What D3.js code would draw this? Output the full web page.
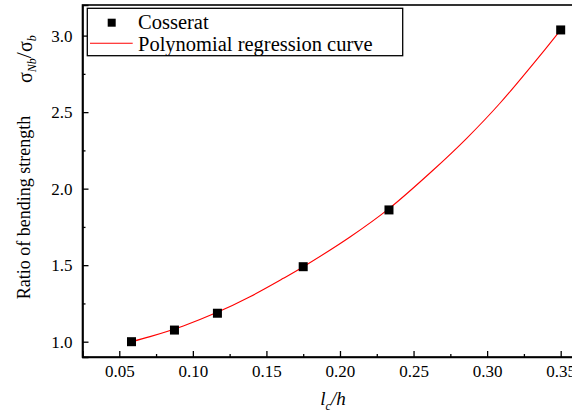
<!DOCTYPE html>
<html>
<head>
<meta charset="utf-8">
<script src="https://cdn.jsdelivr.net/npm/d3@7"></script>
<style>
  html, body { margin: 0; padding: 0; background: #fff; }
  svg { display: block; }
  text { font-family: "Liberation Serif", "Times New Roman", serif; fill: #000; }
</style>
</head>
<body>
<svg id="chart" width="572" height="414"></svg>
<script>
// ---- data ----
const ratioX = [0.0583, 0.0875, 0.1167, 0.175, 0.2333, 0.35];
const cosseratY = [1.0, 1.076, 1.186, 1.49, 1.861, 3.037];

const curveX = [0.0583, 0.0709, 0.0935, 0.1162, 0.1388, 0.1615, 0.1751, 0.2068, 0.2335, 0.2634, 0.2861, 0.3087, 0.3405, 0.35];
const curveY = [1.0, 1.033, 1.103, 1.190, 1.294, 1.414, 1.490, 1.684, 1.871, 2.122, 2.329, 2.558, 2.923, 3.037];

const xTickValues = [0.05, 0.10, 0.15, 0.20, 0.25, 0.30, 0.35];
const xMinorTicks = [0.075, 0.125, 0.175, 0.225, 0.275, 0.325];
const yTickValues = [1.0, 1.5, 2.0, 2.5, 3.0];
const yMinorTicks = [1.25, 1.75, 2.25, 2.75];

const legendLabels = ["Cosserat", "Polynomial regression curve"];

// ---- layout ----
const FONT = "'Liberation Serif', 'Times New Roman', serif";
const svg = d3.select("#chart");
const padL = 82.5, padR = 575.4, padT = 5, padB = 357;

const x = d3.scaleLinear().domain([0.025, 0.36]).range([padL, padR]);
const y = d3.scaleLinear().domain([0.9, 3.2]).range([padB, padT]);

// frame
svg.append("rect")
  .attr("x", padL).attr("y", padT)
  .attr("width", padR - padL).attr("height", padB - padT)
  .attr("fill", "none").attr("stroke", "#000").attr("stroke-width", 1.6);

// x axis
const xAxis = d3.axisBottom(x).tickValues(xTickValues).tickSize(-6).tickFormat(d3.format(".2f")).tickPadding(10);
const gx = svg.append("g").attr("transform", `translate(0,${padB})`).call(xAxis).attr("font-family", FONT);
gx.select(".domain").attr("stroke-width", 1.6);
gx.selectAll(".tick line").attr("stroke-width", 1.3);
gx.selectAll(".tick text").attr("font-size", 17).attr("dy", "0.6em");
const xMinor = d3.axisBottom(x).tickValues(xMinorTicks).tickSize(-3).tickFormat("");
const gxm = svg.append("g").attr("transform", `translate(0,${padB})`).call(xMinor);
gxm.select(".domain").remove();
gxm.selectAll(".tick line").attr("stroke-width", 1.3);

// y axis
const yAxis = d3.axisLeft(y).tickValues(yTickValues).tickSize(-6).tickFormat(d3.format(".1f")).tickPadding(10);
const gy = svg.append("g").attr("transform", `translate(${padL},0)`).call(yAxis).attr("font-family", FONT);
gy.select(".domain").attr("stroke-width", 1.6);
gy.selectAll(".tick line").attr("stroke-width", 1.3);
gy.selectAll(".tick text").attr("font-size", 17);
const yMinor = d3.axisLeft(y).tickValues(yMinorTicks).tickSize(-3).tickFormat("");
const gym = svg.append("g").attr("transform", `translate(${padL},0)`).call(yMinor);
gym.select(".domain").remove();
gym.selectAll(".tick line").attr("stroke-width", 1.3);

// regression curve
const curvePts = curveX.map((d, i) => [d, curveY[i]]);
svg.append("path")
  .datum(curvePts)
  .attr("fill", "none")
  .attr("stroke", "#ff0000")
  .attr("stroke-width", 1.1)
  .attr("d", d3.line().x(d => x(d[0])).y(d => y(d[1])).curve(d3.curveCatmullRom.alpha(0.5)));

// data points
const sq = 9;
svg.append("g").selectAll("rect")
  .data(ratioX.map((d, i) => [d, cosseratY[i]]))
  .join("rect")
  .attr("x", d => x(d[0]) - sq / 2)
  .attr("y", d => y(d[1]) - sq / 2)
  .attr("width", sq).attr("height", sq)
  .attr("fill", "#000");

// legend
const lg = svg.append("g").attr("font-family", FONT);
lg.append("rect").attr("x", 87.3).attr("y", 8.3).attr("width", 315.4).attr("height", 47.4)
  .attr("fill", "#fff").attr("stroke", "#000").attr("stroke-width", 1.3);
lg.append("rect").attr("x", 111.7 - 4).attr("y", 22.7 - 4).attr("width", 8).attr("height", 8).attr("fill", "#000");
lg.append("line").attr("x1", 90).attr("x2", 132.7).attr("y1", 43.3).attr("y2", 43.3)
  .attr("stroke", "#ff0000").attr("stroke-width", 1.1);
lg.append("text").attr("x", 138).attr("y", 22).attr("dy", "0.35em").attr("font-size", 20.5).text(legendLabels[0]);
lg.append("text").attr("x", 138).attr("y", 43.5).attr("dy", "0.35em").attr("font-size", 20.5).text(legendLabels[1]);

// y axis title
svg.append("text")
  .attr("font-family", FONT)
  .attr("transform", "translate(30,207.5) rotate(-90)")
  .attr("text-anchor", "middle")
  .attr("font-size", 18)
  .text("Ratio of bending strength");

// sigma ratio label
const sig = svg.append("text")
  .attr("font-family", FONT)
  .attr("transform", "translate(32,83) rotate(-90)")
  .attr("font-size", 20);
sig.append("tspan").text("σ");
sig.append("tspan").attr("font-style", "italic").attr("font-size", 12).attr("dy", 4).text("Nb");
sig.append("tspan").attr("font-size", 22).attr("dy", -5).text("/");
sig.append("tspan").attr("dy", 1).text("σ");
sig.append("tspan").attr("font-style", "italic").attr("font-size", 12).attr("dy", 4).text("b");

// x axis title
const xt = svg.append("text")
  .attr("font-family", FONT)
  .attr("x", 333).attr("y", 405)
  .attr("text-anchor", "middle")
  .attr("font-size", 19)
  .attr("font-style", "italic");
xt.append("tspan").text("l");
xt.append("tspan").attr("font-size", 12).attr("dy", 5).text("c");
xt.append("tspan").attr("dy", -5).text("/h");
</script>
</body>
</html>
